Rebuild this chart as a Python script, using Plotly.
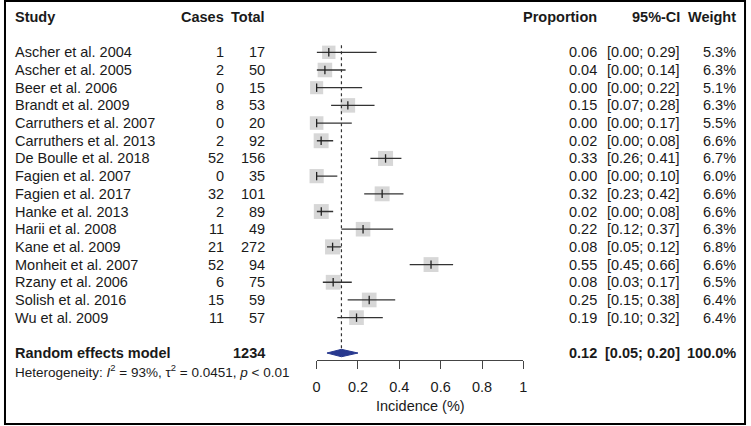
import plotly.graph_objects as go
import math

# ---------------- data ----------------
studies = ["Ascher et al. 2004", "Ascher et al. 2005", "Beer et al. 2006", "Brandt et al. 2009",
           "Carruthers et al. 2007", "Carruthers et al. 2013", "De Boulle et al. 2018",
           "Fagien et al. 2007", "Fagien et al. 2017", "Hanke et al. 2013", "Harii et al. 2008",
           "Kane et al. 2009", "Monheit et al. 2007", "Rzany et al. 2006", "Solish et al. 2016",
           "Wu et al. 2009"]
cases = [1, 2, 0, 8, 0, 2, 52, 0, 32, 2, 11, 21, 52, 6, 15, 11]
totals = [17, 50, 15, 53, 20, 92, 156, 35, 101, 89, 49, 272, 94, 75, 59, 57]
proportion = [0.06, 0.04, 0.00, 0.15, 0.00, 0.02, 0.33, 0.00, 0.32, 0.02, 0.22, 0.08, 0.55, 0.08, 0.25, 0.19]
ci_lo = [0.00, 0.00, 0.00, 0.07, 0.00, 0.00, 0.26, 0.00, 0.23, 0.00, 0.12, 0.05, 0.45, 0.03, 0.15, 0.10]
ci_hi = [0.29, 0.14, 0.22, 0.28, 0.17, 0.08, 0.41, 0.10, 0.42, 0.08, 0.37, 0.12, 0.66, 0.17, 0.38, 0.32]
weights = [5.3, 6.3, 5.1, 6.3, 5.5, 6.6, 6.7, 6.0, 6.6, 6.6, 6.3, 6.8, 6.6, 6.5, 6.4, 6.4]

re_label = "Random effects model"
re_total = 1234
re_est, re_lo, re_hi = 0.12, 0.05, 0.20
re_weight = "100.0%"
heterogeneity = "Heterogeneity: <i>I</i><sup>2</sup> = 93%, τ<sup>2</sup> = 0.0451, <i>p</i> &lt; 0.01"

tick_vals = [0, 0.2, 0.4, 0.6, 0.8, 1]
tick_text = ["0", "0.2", "0.4", "0.6", "0.8", "1"]
x_title = "Incidence (%)"
headers = ["Study", "Cases", "Total", "Proportion", "95%-CI", "Weight"]

# ---------------- layout constants ----------------
W, H = 751, 426
FONT = "Liberation Sans, Arial, sans-serif"
FS = 14.5
TXT = "#1a1a1a"
rows = list(range(len(studies)))
re_row = len(studies) + 1
het_row = re_row + 1
hdr_row = -2
title_row = re_row + 3

def px(x):
    return x / W

est_x = [c / t for c, t in zip(cases, totals)]

fig = go.Figure()

# squares (weights)
fig.add_trace(go.Scatter(
    x=est_x, y=rows, mode="markers", cliponaxis=False, hoverinfo="skip",
    marker=dict(symbol="square", color="#c6c6c6", size=[5.8 * math.sqrt(w) for w in weights],
                line=dict(width=0))))

# CI lines
lx, ly = [], []
for i, (a, b) in enumerate(zip(ci_lo, ci_hi)):
    lx += [a, b, None]
    ly += [i, i, None]
fig.add_trace(go.Scatter(x=lx, y=ly, mode="lines", line=dict(color="#333333", width=1.3),
                         hoverinfo="skip"))

# point-estimate ticks
fig.add_trace(go.Scatter(
    x=est_x, y=rows, mode="markers", cliponaxis=False, hoverinfo="skip",
    marker=dict(symbol="line-ns", size=6, line=dict(color="#222222", width=1.3))))

# reference dotted line at pooled estimate
fig.add_trace(go.Scatter(x=[re_est, re_est], y=[-0.4, re_row - 0.15], mode="lines",
                         line=dict(color="#333333", width=1.2, dash="dot"), hoverinfo="skip"))

# diamond
dh = 0.21
fig.add_trace(go.Scatter(
    x=[re_lo, re_est, re_hi, re_est, re_lo], y=[re_row, re_row - dh, re_row, re_row + dh, re_row],
    mode="lines", fill="toself", fillcolor="#28398f", line=dict(color="#28398f", width=1),
    hoverinfo="skip"))

# ---------------- text columns ----------------
ann = []
def add(text, x, y, anchor, bold=False, size=FS):
    if bold:
        text = "<b>" + text + "</b>"
    ann.append(dict(text=text, x=px(x), xref="paper", y=y, yref="y", xanchor=anchor,
                    yanchor="middle", showarrow=False, borderpad=0,
                    font=dict(family=FONT, size=size, color=TXT)))

col_study, col_cases, col_total = 10, 223, 265
col_prop, col_ci, col_wt = 600, 684, 741

add(headers[0], col_study, hdr_row, "left", True)
add(headers[1], col_cases, hdr_row, "right", True)
add(headers[2], col_total, hdr_row, "right", True)
add(headers[3], col_prop, hdr_row, "right", True)
add(headers[4], col_ci, hdr_row, "right", True)
add(headers[5], col_wt, hdr_row, "right", True)

for i, s in enumerate(studies):
    add(s, col_study, i, "left")
    add(str(cases[i]), col_cases, i, "right")
    add(str(totals[i]), col_total, i, "right")
    add(f"{proportion[i]:.2f}", col_prop, i, "right")
    add(f"[{ci_lo[i]:.2f}; {ci_hi[i]:.2f}]", col_ci, i, "right")
    add(f"{weights[i]:.1f}%", col_wt, i, "right")

add(re_label, col_study, re_row, "left", True)
add(str(re_total), col_total, re_row, "right", True)
add(f"{re_est:.2f}", col_prop, re_row, "right", True)
add(f"[{re_lo:.2f}; {re_hi:.2f}]", col_ci, re_row, "right", True)
add(re_weight, col_wt, re_row, "right", True)
add(heterogeneity, col_study, het_row, "left", False, 13.5)

ann.append(dict(text=x_title, x=0.5, xref="x", y=title_row, yref="y", xanchor="center",
                yanchor="middle", showarrow=False, font=dict(family=FONT, size=FS, color=TXT)))

# row index <-> pixel mapping (first row at 52.3px, spacing 17.69px)
y0_px, dy_px = 52.3, 17.69
y_top = -y0_px / dy_px
y_bot = (H - y0_px) / dy_px

fig.update_layout(
    width=W, height=H, margin=dict(l=0, r=0, t=0, b=0),
    paper_bgcolor="white", plot_bgcolor="white", showlegend=False,
    font=dict(family=FONT, size=FS, color=TXT),
    annotations=ann,
    xaxis=dict(domain=[316 / W, 525 / W], range=[0, 1], anchor="free", position=1 - 360 / H,
               showline=True, linecolor="#444444", linewidth=1, ticks="outside", ticklen=8,
               tickwidth=1, tickcolor="#444444", tickvals=tick_vals, ticktext=tick_text,
               ticklabelstandoff=6,
               tickfont=dict(family=FONT, size=FS, color=TXT), showgrid=False, zeroline=False,
               fixedrange=True),
    yaxis=dict(domain=[0, 1], range=[y_bot, y_top], visible=False, showgrid=False,
               zeroline=False, fixedrange=True),
    shapes=[dict(type="rect", xref="paper", yref="paper", x0=1 / W, x1=749 / W,
                 y0=1 - 424 / H, y1=1 - 1 / H, line=dict(color="black", width=2))],
)

fig.write_html("out.html", config={"displayModeBar": False},
               post_script="document.body.style.margin='0px';document.body.style.overflow='hidden';")
